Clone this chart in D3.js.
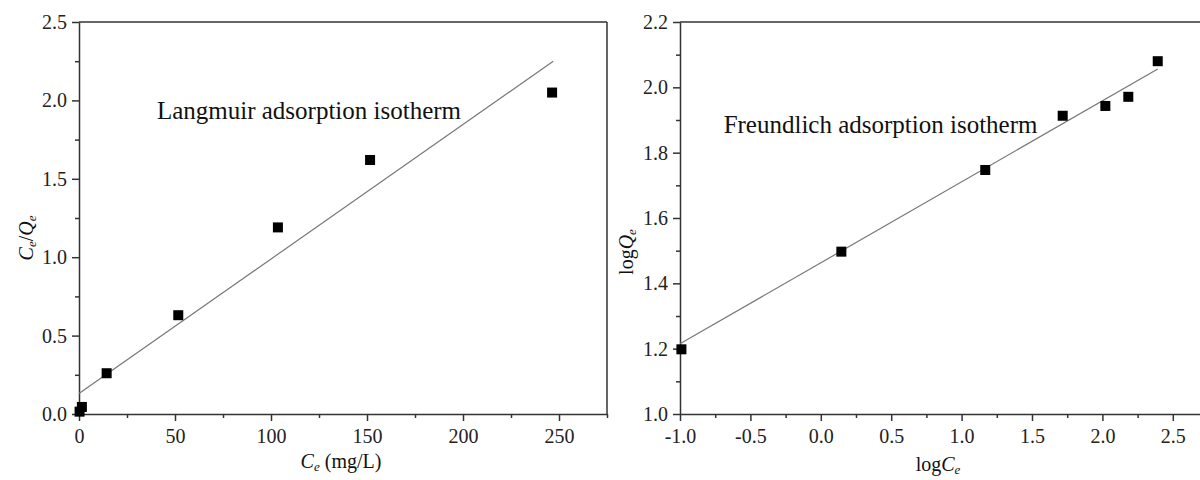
<!DOCTYPE html>
<html>
<head>
<meta charset="utf-8">
<script src="https://cdn.jsdelivr.net/npm/d3@7/dist/d3.min.js"></script>
<style>
  body { margin: 0; background: #fff; }
  svg { display: block; }
  text { font-family: "Liberation Serif", "Times New Roman", serif; fill: #111; }
  .axis path, .axis line { stroke: #333; stroke-width: 1.5; }
  .axis text { font-size: 20px; fill: #222; }
</style>
</head>
<body>
<div id="chart"></div>
<script>
// Langmuir panel data
var langCe = [0.3, 1.5, 14.4, 51.7, 103.6, 151.6, 246.4];
var langRatio = [0.015, 0.045, 0.26, 0.63, 1.19, 1.62, 2.05];
var langFitX = [0, 247];
var langFitY = [0.13, 2.25];
var langXTicks = [0, 50, 100, 150, 200, 250];
var langXMinor = [25, 75, 125, 175, 225, 275];
var langYTicks = [0, 0.5, 1.0, 1.5, 2.0, 2.5];
var langYMinor = [0.25, 0.75, 1.25, 1.75, 2.25];

// Freundlich panel data
var freLogCe = [-0.99, 0.146, 1.168, 1.718, 2.021, 2.184, 2.393];
var freLogQe = [1.198, 1.497, 1.747, 1.913, 1.943, 1.971, 2.080];
var freFitX = [-1.0, 2.393];
var freFitY = [1.215, 2.056];
var freXTicks = [-1.0, -0.5, 0.0, 0.5, 1.0, 1.5, 2.0, 2.5];
var freXMinor = [-0.75, -0.25, 0.25, 0.75, 1.25, 1.75, 2.25, 2.75];
var freYTicks = [1.0, 1.2, 1.4, 1.6, 1.8, 2.0, 2.2];
var freYMinor = [1.1, 1.3, 1.5, 1.7, 1.9, 2.1];

var W = 1200, H = 480;
var top0 = 22, bottom0 = 414;

// plain hyphen for negatives, like the original figure
var fmt1 = function(d) { return d3.format('.1f')(d).replace('\u2212', '-'); };

var svg = d3.select('#chart').append('svg')
    .attr('width', W)
    .attr('height', H);

// draws one panel: frame, axes with minor ticks, fit line, square markers
function panel(opt) {
    var x = d3.scaleLinear().domain(opt.xDomain).range(opt.xRange);
    var y = d3.scaleLinear().domain(opt.yDomain).range([bottom0, top0]);
    var g = svg.append('g');

    // top and right frame
    g.append('line')
        .attr('x1', opt.xRange[0]).attr('x2', opt.xRange[1])
        .attr('y1', top0).attr('y2', top0)
        .attr('stroke', '#333').attr('stroke-width', 1.5);
    g.append('line')
        .attr('x1', opt.xRange[1]).attr('x2', opt.xRange[1])
        .attr('y1', top0).attr('y2', bottom0)
        .attr('stroke', '#333').attr('stroke-width', 1.5);

    // minor ticks
    g.append('g').attr('class', 'axis')
        .attr('transform', 'translate(0,' + bottom0 + ')')
        .call(d3.axisBottom(x).tickValues(opt.xMinor).tickSize(4).tickSizeOuter(0).tickFormat(''))
        .select('.domain').remove();
    g.append('g').attr('class', 'axis')
        .attr('transform', 'translate(' + opt.xRange[0] + ',0)')
        .call(d3.axisLeft(y).tickValues(opt.yMinor).tickSize(4).tickSizeOuter(0).tickFormat(''))
        .select('.domain').remove();

    // major axes
    g.append('g').attr('class', 'axis')
        .attr('transform', 'translate(0,' + bottom0 + ')')
        .call(d3.axisBottom(x).tickValues(opt.xTicks).tickSize(7).tickPadding(8)
            .tickSizeOuter(0).tickFormat(opt.xFormat));
    g.append('g').attr('class', 'axis')
        .attr('transform', 'translate(' + opt.xRange[0] + ',0)')
        .call(d3.axisLeft(y).tickValues(opt.yTicks).tickSize(7).tickPadding(5)
            .tickSizeOuter(0).tickFormat(fmt1));

    // linear fit
    g.append('line')
        .attr('x1', x(opt.fitX[0])).attr('y1', y(opt.fitY[0]))
        .attr('x2', x(opt.fitX[1])).attr('y2', y(opt.fitY[1]))
        .attr('stroke', '#777').attr('stroke-width', 1.2);

    var s = 10;
    g.append('g').selectAll('rect')
        .data(opt.xs)
        .enter().append('rect')
        .attr('x', function(d) { return x(d) - s / 2; })
        .attr('y', function(d, i) { return y(opt.ys[i]) - s / 2; })
        .attr('width', s)
        .attr('height', s)
        .attr('fill', '#000');

    g.append('text')
        .attr('x', x(opt.note[0]))
        .attr('y', y(opt.note[1]))
        .attr('font-size', 25)
        .text(opt.noteText);

    return { x: x, y: y, g: g };
}

var left = panel({
    xDomain: [0, 275], xRange: [79, 607], yDomain: [0, 2.5],
    xTicks: langXTicks, xMinor: langXMinor, yTicks: langYTicks, yMinor: langYMinor,
    xFormat: d3.format('d'),
    fitX: langFitX, fitY: langFitY, xs: langCe, ys: langRatio,
    note: [40.6, 1.88], noteText: 'Langmuir adsorption isotherm'
});

var right = panel({
    xDomain: [-1, 2.75], xRange: [680, 1208], yDomain: [1.0, 2.2],
    xTicks: freXTicks, xMinor: freXMinor, yTicks: freYTicks, yMinor: freYMinor,
    xFormat: fmt1,
    fitX: freFitX, fitY: freFitY, xs: freLogCe, ys: freLogQe,
    note: [-0.69, 1.861], noteText: 'Freundlich adsorption isotherm'
});

// axis titles with subscripts
var xt1 = svg.append('text')
    .attr('x', 341).attr('y', 468)
    .attr('text-anchor', 'middle')
    .attr('font-size', 20);
xt1.append('tspan').attr('font-style', 'italic').text('C');
xt1.append('tspan').attr('font-style', 'italic').attr('font-size', 13).attr('dy', 3).text('e');
xt1.append('tspan').attr('dy', -3).text(' (mg/L)');

var yt1 = svg.append('text')
    .attr('transform', 'translate(33,238) rotate(-90)')
    .attr('text-anchor', 'middle')
    .attr('font-size', 20);
yt1.append('tspan').attr('font-style', 'italic').text('C');
yt1.append('tspan').attr('font-style', 'italic').attr('font-size', 13).attr('dy', 3).text('e');
yt1.append('tspan').attr('dy', -3).text('/');
yt1.append('tspan').attr('font-style', 'italic').text('Q');
yt1.append('tspan').attr('font-style', 'italic').attr('font-size', 13).attr('dy', 3).text('e');

var xt2 = svg.append('text')
    .attr('x', 938).attr('y', 471)
    .attr('text-anchor', 'middle')
    .attr('font-size', 20);
xt2.append('tspan').text('log');
xt2.append('tspan').attr('font-style', 'italic').text('C');
xt2.append('tspan').attr('font-style', 'italic').attr('font-size', 13).attr('dy', 3).text('e');

var yt2 = svg.append('text')
    .attr('transform', 'translate(633,252) rotate(-90)')
    .attr('text-anchor', 'middle')
    .attr('font-size', 20);
yt2.append('tspan').text('log');
yt2.append('tspan').attr('font-style', 'italic').text('Q');
yt2.append('tspan').attr('font-style', 'italic').attr('font-size', 13).attr('dy', 3).text('e');
</script>
</body>
</html>
